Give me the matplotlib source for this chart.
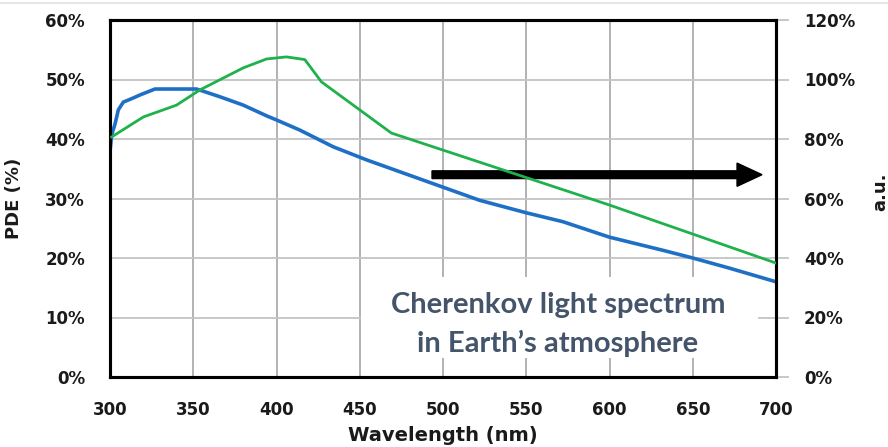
import matplotlib
matplotlib.use("Agg")
import matplotlib.pyplot as plt
from matplotlib.patches import Rectangle, FancyArrow
from matplotlib.lines import Line2D
from matplotlib.ticker import FuncFormatter

# PDE of the photodetector (left axis, %)
pde_wavelength = [300, 301, 303, 305, 308, 314, 318, 327, 352, 366, 380, 394, 400,
                  414, 434, 454, 474, 500, 522, 550, 572, 600, 632, 650, 672, 700]
pde_percent = [37.8, 40.7, 42.5, 44.9, 46.2, 46.9, 47.4, 48.4, 48.4, 47.1, 45.7, 43.9, 43.2,
               41.5, 38.7, 36.5, 34.5, 31.9, 29.7, 27.6, 26.1, 23.5, 21.3, 20.0, 18.3, 16.0]

# Cherenkov light spectrum (right axis, arbitrary units in %)
cher_wavelength = [301, 320, 340, 354, 380, 394, 406, 417, 427, 469, 600, 700]
cher_au = [80.7, 87.4, 91.4, 96.5, 103.9, 106.9, 107.6, 106.7, 99.2, 82.0, 57.8, 38.3]

x_ticks = [300, 350, 400, 450, 500, 550, 600, 650, 700]
left_ticks = [0, 10, 20, 30, 40, 50, 60]
right_ticks = [0, 20, 40, 60, 80, 100, 120]

BLUE = "#1f6fc6"
GREEN = "#1fb14b"
TEXT_BLUE = "#44546A"
GRID_H = "#c4c4c4"
GRID_V = "#acacac"
DARK = "#1a1a1a"

fig = plt.figure(figsize=(8.88, 4.47), dpi=100)
ax = fig.add_axes([110 / 888, 1 - 377 / 447, 666 / 888, 357 / 447])
ax2 = ax.twinx()

ax.set_xlim(300, 700)
ax.set_ylim(0, 60)
ax2.set_ylim(0, 120)

ax.set_xticks(x_ticks)
ax.set_yticks(left_ticks)
ax2.set_yticks(right_ticks)
pct = FuncFormatter(lambda v, p: f"{v:.0f}%")
ax.yaxis.set_major_formatter(pct)
ax2.yaxis.set_major_formatter(pct)

ax.yaxis.grid(True, color=GRID_H, lw=1.3)
ax.xaxis.grid(True, color=GRID_V, lw=1.3)
ax.set_axisbelow(True)

ax.tick_params(axis="x", length=0, pad=17)
ax.tick_params(axis="y", length=0, pad=18)
ax2.tick_params(axis="y", length=9, width=1.3, color=GRID_H, pad=11)
for lab in ax.get_xticklabels() + ax.get_yticklabels() + ax2.get_yticklabels():
    lab.set_fontsize(12)
    lab.set_fontweight("bold")
    lab.set_color(DARK)

for a in (ax, ax2):
    for s in a.spines.values():
        s.set_linewidth(2.2)
        s.set_color("black")

ax.set_xlabel("Wavelength (nm)", fontsize=14, fontweight="bold", color=DARK)
ax.xaxis.set_label_coords(0.5, -0.138)
ax.set_ylabel("PDE (%)", fontsize=13, fontweight="bold", color=DARK)
ax.yaxis.set_label_coords(-0.131, 0.5)
ax2.set_ylabel("a.u.", fontsize=13, fontweight="bold", rotation=90, color=DARK)
ax2.yaxis.set_label_coords(1.143, 0.52)

# white label box over the grid
ax.add_patch(Rectangle((451, 3.2), 238, 13.6, facecolor="white", edgecolor="none", zorder=1.5))
label_font = dict(ha="center", va="center", fontsize=21, fontweight="bold",
                  family="Lato", color=TEXT_BLUE, zorder=3)
ax.text(569, 12.1, "Cherenkov light spectrum", **label_font)
ax.text(569, 5.7, "in Earth\u2019s atmosphere", **label_font)

ax.plot(pde_wavelength, pde_percent, color=BLUE, lw=2.6, zorder=3, solid_joinstyle="round")
ax2.plot(cher_wavelength, cher_au, color=GREEN, lw=2.0, zorder=3, solid_joinstyle="round")

# direction arrow
ax.add_patch(FancyArrow(493.4, 34.0, 198.2, 0, width=1.3, head_width=3.9,
                        head_length=15, length_includes_head=True,
                        color="black", zorder=4))

fig.add_artist(Line2D([0, 1], [1 - 2.5 / 447] * 2, color="#e2e2e2", lw=1.2))

fig.savefig("out.png", dpi=100)
